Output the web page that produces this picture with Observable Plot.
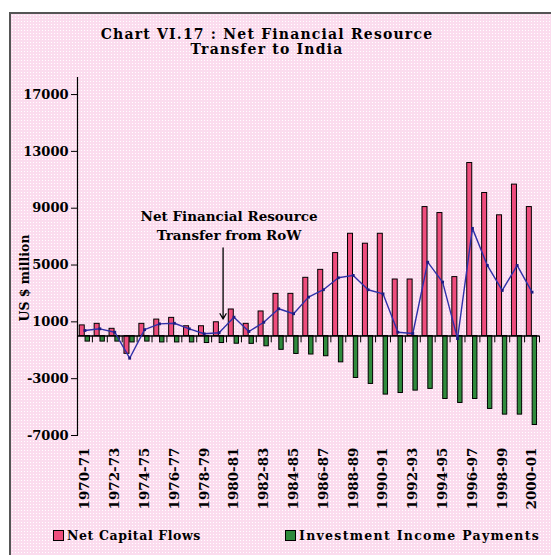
<!DOCTYPE html>
<html>
<head>
<meta charset="utf-8">
<script src="https://cdn.jsdelivr.net/npm/d3@7"></script>
<script src="https://cdn.jsdelivr.net/npm/@observablehq/plot@0.6"></script>
<style>
  html, body { margin: 0; padding: 0; background: #fff; }
  #wrap { position: relative; width: 551px; height: 555px; overflow: hidden; background: #fff;
          font-family: "DejaVu Serif", serif; font-weight: bold; color: #000; }
  #panel { position: absolute; left: 9px; top: 12px; width: 600px; height: 600px;
           border-left: 2px solid #555; border-top: 2px solid #555;
           background-color: #fbdcee;
           background-image: radial-gradient(circle, #ffffff 0.7px, transparent 1px);
           background-size: 3px 3px; }
  #title { position: absolute; left: 0; top: 27px; width: 534px; text-align: center;
           font-size: 14px; line-height: 15px; letter-spacing: 1.2px; }
  #ylabel { position: absolute; left: 24px; top: 278px; transform: translate(-50%, -50%) rotate(-90deg);
            font-size: 12.5px; white-space: nowrap; }
  #chart { position: absolute; left: 0; top: 0; }
  .leg { position: absolute; top: 529px; font-size: 12.5px; line-height: 14px; white-space: nowrap; letter-spacing: 0.6px; }
  .sw { display: inline-block; width: 9px; height: 9px; border: 1px solid #000; vertical-align: -1px; margin-right: 3px; }
</style>
</head>
<body>
<div id="wrap">
  <div id="panel"></div>
  <div id="title">Chart VI.17 : Net Financial Resource<br>Transfer to India</div>
  <div id="ylabel">US $ million</div>
  <div id="chart"></div>
  <div class="leg" style="left:53px"><span class="sw" style="background:#ee4d7d"></span>Net Capital Flows</div>
  <div class="leg" style="left:285px;letter-spacing:1.3px"><span class="sw" style="background:#2f8a3c"></span>Investment Income Payments</div>
</div>
<script>
// ---- data (US $ million) ----
const years = ["1970-71","1971-72","1972-73","1973-74","1974-75","1975-76","1976-77","1977-78",
  "1978-79","1979-80","1980-81","1981-82","1982-83","1983-84","1984-85","1985-86","1986-87",
  "1987-88","1988-89","1989-90","1990-91","1991-92","1992-93","1993-94","1994-95","1995-96",
  "1996-97","1997-98","1998-99","1999-00","2000-01"];
const netCapitalFlows = [750, 860, 510, -1250, 860, 1160, 1280, 690, 690, 970, 1870, 860, 1730,
  2970, 2970, 4100, 4660, 5840, 7200, 6500, 7200, 3980, 3980, 9080, 8660, 4150, 12180, 10070,
  8500, 10660, 9080];
const investmentIncomePayments = [-390, -390, -390, -450, -390, -450, -450, -450, -490, -490,
  -540, -550, -720, -970, -1260, -1300, -1420, -1850, -2950, -3370, -4120, -4010, -3840, -3720,
  -4430, -4710, -4430, -5130, -5530, -5530, -6260];
const netTransfer = [390, 510, 270, -1560, 450, 860, 900, 510, 160, 230, 1330, 320, 970, 1920,
  1570, 2740, 3260, 4100, 4270, 3260, 2970, 270, 180, 5200, 3800, -180, 7580, 4970, 3210, 4970, 3090];
const yTicks = [17000, 13000, 9000, 5000, 1000, -3000, -7000];
const xLabelYears = years.filter((d, i) => i % 2 === 0);
const annotation = [{year: "1979-80", value: 7850, text: "Net Financial Resource\nTransfer from RoW"}];
const arrowData = [{year: "1979-80", from: 6200, to: 1200}];

// ---- table built from arrays ----
const rows = years.map((y, i) => ({year: y, capital: netCapitalFlows[i],
  income: investmentIncomePayments[i], transfer: netTransfer[i]}));

const W = 551, H = 555, ML = 77, MR = 12, MT = 77, MB = 120;
const half = (W - ML - MR) / years.length / 2;
const font = "DejaVu Serif";

const chart = Plot.plot({
  width: W, height: H,
  marginLeft: ML, marginRight: MR, marginTop: MT, marginBottom: MB,
  style: {background: "transparent", fontFamily: font, fontWeight: "bold", fontSize: "13px", overflow: "visible"},
  x: {type: "band", domain: years, padding: 0, round: false, axis: null},
  y: {domain: [-7000, 18200], axis: null},
  marks: [
    Plot.barY(rows, {x: "year", y: "capital", fill: "#ee4d7d", stroke: "#000", strokeWidth: 1,
      insetLeft: half - 5.2, insetRight: half + 0.2}),
    Plot.barY(rows, {x: "year", y: "income", fill: "#2f8a3c", stroke: "#000", strokeWidth: 1,
      insetLeft: half + 0.6, insetRight: half - 5.0}),
    Plot.ruleY([0], {stroke: "#000", strokeWidth: 1.5}),
    Plot.ruleX(years, {x: d => d, y1: 0, y2: -480, dx: -half, stroke: "#000"}),
    Plot.ruleX(years.slice(-1), {x: d => d, y1: 0, y2: -480, dx: half, stroke: "#000"}),
    Plot.line(rows, {x: "year", y: "transfer", stroke: "#3030a8", strokeWidth: 1.4}),
    Plot.dot(rows, {x: "year", y: "transfer", symbol: "square", r: 1.6, fill: "#1c1c80"}),
    Plot.frame({anchor: "left", stroke: "#000", strokeWidth: 1.2}),
    Plot.axisY(yTicks, {tickSize: 6, tickPadding: 3, tickFormat: d => String(d),
      fontSize: 13, fontWeight: "bold", fontFamily: font, label: null}),
    Plot.axisX(xLabelYears, {anchor: "bottom", tickSize: 0, tickPadding: 12, tickRotate: -90,
      fontSize: 13.5, fontWeight: "bold", fontFamily: font, label: null}),
    Plot.text(annotation, {x: "year", y: "value", text: "text", dx: 10, lineHeight: 1.4,
      fontSize: 13.5, fontWeight: "bold", fontFamily: font, fill: "#000"}),
    Plot.arrow(arrowData, {x1: "year", x2: "year", y1: "from", y2: "to", dx: 4,
      stroke: "#000", strokeWidth: 1.3, headLength: 7})
  ]
});
document.getElementById("chart").appendChild(chart);
</script>
</body>
</html>
